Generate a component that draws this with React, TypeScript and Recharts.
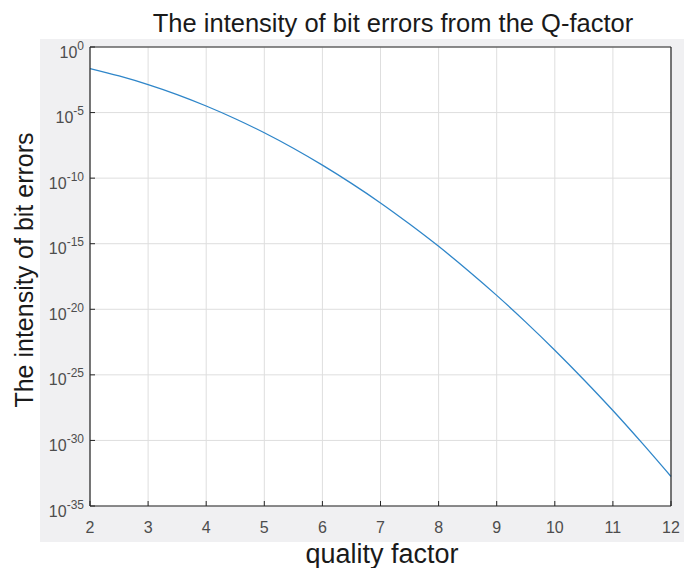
import React from 'react';
import { LineChart, Line, XAxis, YAxis, CartesianGrid } from 'recharts';

// quality factor (x) and log10 of the bit error intensity (y)
const qFactor = [2, 2.5, 3, 3.5, 4, 4.5, 5, 5.5, 6, 6.5, 7, 7.5, 8, 8.5, 9, 9.5, 10, 10.5, 11, 11.5, 12];
const berExponent = [
  -1.64, -2.21, -2.87, -3.63, -4.5, -5.47, -6.54, -7.72, -9.01, -10.4, -11.89,
  -13.5, -15.2, -17.02, -18.94, -20.98, -23.12, -25.37, -27.72, -30.19, -32.75,
];
const xTicks = [2, 3, 4, 5, 6, 7, 8, 9, 10, 11, 12];
const yTicks = [0, -5, -10, -15, -20, -25, -30, -35];

const data = qFactor.map((q, i) => ({ q, ber: berExponent[i] }));

const FONT = '"Liberation Sans", Arial, Helvetica, sans-serif';
const TICK_COLOR = '#4d4d4d';
const AXIS_COLOR = '#262626';

// 10^n label for the log axis (dy keeps both parts in one anchored chunk)
const PowerTick = ({ x, y, payload }: any) => (
  <text x={x} y={y} textAnchor="end" fill={TICK_COLOR} fontFamily={FONT} fontSize={16}>
    <tspan dy={10.5}>10</tspan>
    <tspan dy={-8} fontSize={12}>{payload.value}</tspan>
  </text>
);

export default function App() {
  return (
    <div style={{ position: 'absolute', left: 0, top: 0, width: 684, height: 568, background: '#fff', overflow: 'hidden' }}>
      {/* figure gray behind the axes */}
      <div style={{ position: 'absolute', left: 40, top: 39, width: 644, height: 503, background: '#f0f0f2' }} />
      <div style={{ position: 'absolute', left: 0, top: 0 }}>
        <LineChart width={684} height={568} data={data} margin={{ top: 46, right: 12, bottom: 32, left: 40 }}>
          <CartesianGrid stroke="#dedede" strokeWidth={1} fill="#fff" />
          <XAxis
            dataKey="q"
            type="number"
            domain={[2, 12]}
            ticks={xTicks}
            interval={0}
            height={30}
            axisLine={{ stroke: AXIS_COLOR, strokeWidth: 1.2 }}
            tickLine={{ stroke: AXIS_COLOR }}
            tickSize={-5}
            tickMargin={21}
            tick={{ fill: TICK_COLOR, fontFamily: FONT, fontSize: 16 }}
          />
          <XAxis
            xAxisId="top"
            dataKey="q"
            type="number"
            orientation="top"
            domain={[2, 12]}
            ticks={xTicks}
            interval={0}
            height={1}
            axisLine={{ stroke: AXIS_COLOR, strokeWidth: 1.2 }}
            tickLine={{ stroke: AXIS_COLOR }}
            tickSize={-5}
            tick={false}
          />
          <YAxis
            type="number"
            domain={[-35, 0]}
            ticks={yTicks}
            interval={0}
            width={50}
            axisLine={{ stroke: AXIS_COLOR, strokeWidth: 1.2 }}
            tickLine={{ stroke: AXIS_COLOR }}
            tickSize={-5}
            tickMargin={11}
            tick={<PowerTick />}
          />
          <YAxis
            yAxisId="right"
            orientation="right"
            type="number"
            domain={[-35, 0]}
            ticks={yTicks}
            interval={0}
            width={1}
            axisLine={{ stroke: AXIS_COLOR, strokeWidth: 1.2 }}
            tickLine={{ stroke: AXIS_COLOR }}
            tickSize={-5}
            tick={false}
          />
          <Line
            type="monotone"
            dataKey="ber"
            stroke="#2f86c9"
            strokeWidth={1.3}
            dot={false}
            isAnimationActive={false}
          />
        </LineChart>
      </div>
      {/* title and axis labels */}
      <svg width={684} height={568} style={{ position: 'absolute', left: 0, top: 0, pointerEvents: 'none' }}>
        <text x={393} y={32} textAnchor="middle" fontFamily={FONT} fontSize={25.5} fill="#1a1a1a">
          The intensity of bit errors from the Q-factor
        </text>
        <text
          x={0}
          y={0}
          transform="translate(33 270) rotate(-90)"
          textAnchor="middle"
          fontFamily={FONT}
          fontSize={25}
          fill="#1a1a1a"
        >
          The intensity of bit errors
        </text>
        <text x={382} y={563} textAnchor="middle" fontFamily={FONT} fontSize={27} fill="#1a1a1a">
          quality factor
        </text>
      </svg>
    </div>
  );
}
